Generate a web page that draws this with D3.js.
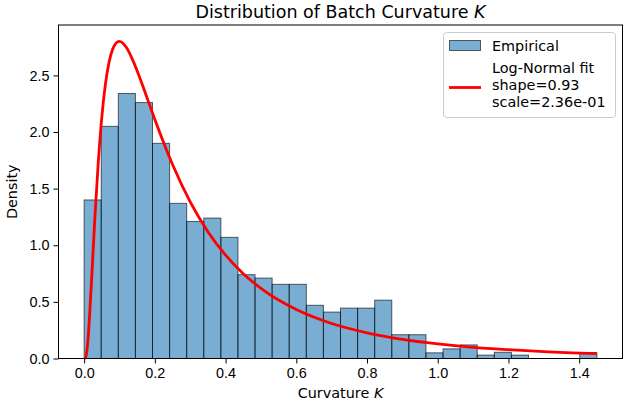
<!DOCTYPE html>
<html>
<head>
<meta charset="utf-8">
<script src="https://cdn.jsdelivr.net/npm/d3@7"></script>
<style>
  body { margin: 0; background: #fff; }
  svg { font-family: "DejaVu Sans", sans-serif; }
  .tick text { font-size: 14.4px; fill: #000; }
  .tick line, .domain { stroke: #000; }
</style>
</head>
<body>
<svg width="629" height="404"></svg>
<script>
// **** data ****
const binStart = 0, binEnd = 1.45, binCount = 30;
const density = [1.40, 2.05, 2.34, 2.26, 1.90, 1.37, 1.21, 1.24, 1.07, 0.74,
                 0.71, 0.655, 0.655, 0.47, 0.41, 0.445, 0.445, 0.515, 0.21, 0.21,
                 0.05, 0.085, 0.12, 0.03, 0.055, 0.03, 0, 0, 0, 0.05];
const fitX = [0.002, 0.005, 0.01, 0.02, 0.03, 0.04, 0.05, 0.06, 0.07, 0.08, 0.09, 0.10,
              0.12, 0.14, 0.16, 0.18, 0.20, 0.25, 0.30, 0.35, 0.40, 0.45, 0.50, 0.60,
              0.70, 0.80, 0.90, 1.00, 1.10, 1.20, 1.30, 1.45];
const fitY = [0.0, 0.016, 0.133, 0.634, 1.222, 1.735, 2.132, 2.418, 2.609, 2.726, 2.785, 2.801,
              2.744, 2.617, 2.457, 2.284, 2.111, 1.713, 1.383, 1.120, 0.913, 0.749, 0.619, 0.432,
              0.309, 0.227, 0.169, 0.129, 0.099, 0.078, 0.061, 0.044];
const xTicks = [0.0, 0.2, 0.4, 0.6, 0.8, 1.0, 1.2, 1.4];
const yTicks = [0.0, 0.5, 1.0, 1.5, 2.0, 2.5];
const legendLines = ['Log-Normal fit', 'shape=0.93', 'scale=2.36e-01'];

// **** scales ****
const plotL = 58.5, plotR = 622.5, plotT = 25, plotB = 358.5;
const xScale = d3.scaleLinear().domain([-0.0725, 1.5225]).range([plotL, plotR]);
const yScale = d3.scaleLinear().domain([0, 2.945]).range([plotB, plotT]);

const svg = d3.select('svg');
const binW = (binEnd - binStart) / binCount;

// **** bars ****
svg.append('g').selectAll('rect')
    .data(density)
    .join('rect')
    .attr('x', (d, i) => xScale(binStart + i * binW))
    .attr('y', d => yScale(d))
    .attr('width', xScale(binW) - xScale(0))
    .attr('height', d => yScale(0) - yScale(d))
    .attr('fill', '#1f77b4')
    .attr('fill-opacity', 0.6)
    .attr('stroke', '#000')
    .attr('stroke-opacity', 0.6)
    .attr('stroke-width', 1);

// **** fit curve ****
const line = d3.line()
    .x(d => xScale(d[0]))
    .y(d => yScale(d[1]))
    .curve(d3.curveMonotoneX);

svg.append('path')
    .datum(fitX.map((x, i) => [x, fitY[i]]))
    .attr('d', line)
    .attr('fill', 'none')
    .attr('stroke', 'red')
    .attr('stroke-width', 2.8);

// **** axes ****
svg.append('g')
    .attr('transform', `translate(0,${plotB})`)
    .call(d3.axisBottom(xScale).tickValues(xTicks).tickFormat(d3.format('.1f')).tickSizeOuter(0).tickSize(5).tickPadding(4))
    .call(g => g.select('.domain').remove());

svg.append('g')
    .attr('transform', `translate(${plotL},0)`)
    .call(d3.axisLeft(yScale).tickValues(yTicks).tickFormat(d3.format('.1f')).tickSizeOuter(0).tickSize(5).tickPadding(4))
    .call(g => g.select('.domain').remove());

svg.append('rect')
    .attr('x', plotL).attr('y', plotT)
    .attr('width', plotR - plotL).attr('height', plotB - plotT)
    .attr('fill', 'none').attr('stroke', '#000').attr('stroke-width', 1);

// **** labels ****
svg.append('text')
    .attr('x', (plotL + plotR) / 2).attr('y', 18)
    .attr('text-anchor', 'middle')
    .style('font-size', '17.5px')
    .html('Distribution of Batch Curvature <tspan font-style="italic">K</tspan>');

svg.append('text')
    .attr('x', (plotL + plotR) / 2).attr('y', 398)
    .attr('text-anchor', 'middle')
    .style('font-size', '14.4px')
    .html('Curvature <tspan font-style="italic">K</tspan>');

svg.append('text')
    .attr('transform', `translate(17,${(plotT + plotB) / 2}) rotate(-90)`)
    .attr('text-anchor', 'middle')
    .style('font-size', '14.4px')
    .text('Density');

// **** legend ****
const lg = svg.append('g');
lg.append('rect')
    .attr('x', 443.5).attr('y', 32.5)
    .attr('width', 172).attr('height', 85)
    .attr('rx', 3)
    .attr('fill', '#fff').attr('fill-opacity', 0.8)
    .attr('stroke', '#ccc');

lg.append('rect')
    .attr('x', 449.5).attr('y', 40.5)
    .attr('width', 31).attr('height', 10)
    .attr('fill', '#1f77b4').attr('fill-opacity', 0.6)
    .attr('stroke', '#000').attr('stroke-opacity', 0.6);

lg.append('text')
    .attr('x', 492).attr('y', 50.5)
    .style('font-size', '14.4px')
    .text('Empirical');

lg.append('line')
    .attr('x1', 449).attr('x2', 481)
    .attr('y1', 87.5).attr('y2', 87.5)
    .attr('stroke', 'red').attr('stroke-width', 2.8);

lg.selectAll('text.fit')
    .data(legendLines)
    .join('text')
    .attr('class', 'fit')
    .attr('x', 492)
    .attr('y', (d, i) => 73 + i * 17)
    .style('font-size', '14.4px')
    .text(d => d);
</script>
</body>
</html>
